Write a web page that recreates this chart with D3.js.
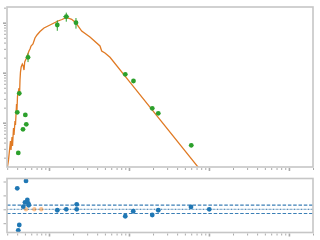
<!DOCTYPE html>
<html>
<head>
<meta charset="utf-8">
<script src="https://cdn.jsdelivr.net/npm/d3@7"></script>
<style>
  body { margin: 0; background: #fff; }
  svg { display: block; }
</style>
</head>
<body>
<svg id="chart" width="320" height="240"></svg>
<script>
// model spectrum: wavelength (um) and flux
const modelWave = [0.0301, 0.0312, 0.0321, 0.0330, 0.0335, 0.0345, 0.0350, 0.0360, 0.0365, 0.0376,
  0.0381, 0.0393, 0.0398, 0.0404, 0.0413, 0.0422, 0.0428, 0.0434, 0.0440, 0.0449,
  0.0464, 0.0477, 0.0487, 0.0497, 0.0516, 0.0539, 0.0562, 0.0579, 0.0596, 0.0631,
  0.0668, 0.0708, 0.0772, 0.0866, 0.0972, 0.1122, 0.1296, 0.1454, 0.1655, 0.1922,
  0.2175, 0.2563, 0.3252, 0.4340, 0.4560, 0.5012, 0.5790, 0.980, 7.72];
const modelFlux = [0.124, 0.180, 0.284, 0.431, 0.284, 0.518, 0.342, 0.783, 0.568, 1.08,
  0.90, 2.37, 1.79, 3.42, 4.11, 4.94, 3.42, 7.14, 10.3, 13.0,
  14.9, 13.6, 11.3, 16.4, 18.8, 22.6, 27.2, 29.8, 34.2, 37.5,
  49.4, 56.8, 66.7, 78.3, 85.9, 96.4, 108.1, 115.9, 127.1, 116.9,
  98.6, 68.2, 51.8, 34.2, 27.2, 24.8, 20.3, 7.08, 0.116];

// photometry
const photWave = [0.0401, 0.0413, 0.0425, 0.0473, 0.0506, 0.0520, 0.0547, 0.1270, 0.1645, 0.2175,
  0.899, 1.138, 1.955, 2.325, 6.01];
const photFlux = [1.61, 0.248, 3.87, 0.738, 1.43, 0.929, 20.3, 89.9, 131.8, 100,
  9.29, 6.82, 1.94, 1.54, 0.353];
const photErr = [0.1, 0.02, 0.3, 0.05, 0.1, 0.06, 4, 21, 27, 24,
  0.4, 0.3, 0.1, 0.08, 0.03];
const photWaveErr = [0.0005, 0.0005, 0.0005, 0.0005, 0.0005, 0.0005, 0.0015, 0.004, 0.014, 0.006,
  0.01, 0.01, 0.02, 0.02, 0.05];

// residuals
const residWave = [0.0401, 0.0516, 0.0425, 0.0413, 0.0477, 0.0501, 0.0536, 0.0551, 0.0557, 0.127,
  0.1645, 0.222, 0.222, 0.899, 1.130, 1.955, 2.325, 5.96, 10.09];
const residVal = [1.51, 2.04, -1.13, -1.51, 0.19, 0.50, 0.67, 0.43, 0.29, -0.07,
  0.0, 0.36, 0.0, -0.50, -0.14, -0.41, -0.07, 0.17, 0.0];
const skipWave = [0.0516, 0.0655, 0.0801];
const skipVal = [0, 0, 0];
const residBand = 0.3;
const residTicks = [-1, 0, 1, 2];

const svg = d3.select('#chart');
const L = 7, R = 313;
const main = { top: 7, bottom: 167 };
const res = { top: 178.5, bottom: 232.5 };
const spine = '#c6c6c6', tickCol = '#aaaaaa';

const x = d3.scaleLog().domain([0.02985, 200]).range([L, R]);
const y = d3.scaleLog().domain([0.13, 206]).range([main.bottom, main.top]);
const yr = d3.scaleLinear().domain([-1.669, 2.216]).range([res.bottom, res.top]);

const isMajor = d => Math.abs(Math.log10(d) - Math.round(Math.log10(d))) < 1e-6;

// clip paths
const defs = svg.append('defs');
defs.append('clipPath').attr('id', 'clipMain').append('rect')
  .attr('x', L).attr('y', main.top).attr('width', R - L).attr('height', main.bottom - main.top);
defs.append('clipPath').attr('id', 'clipRes').append('rect')
  .attr('x', L).attr('y', res.top).attr('width', R - L).attr('height', res.bottom - res.top);

function drawTicks(axis, ticks, size, tx, ty) {
  const g = svg.append('g').attr('transform', `translate(${tx},${ty})`)
    .call(axis.tickValues(ticks).tickSize(size).tickFormat(''));
  g.select('.domain').remove();
  g.selectAll('line').attr('stroke', tickCol).attr('stroke-width', 1);
  return g;
}

// main panel ticks
const xt = x.ticks();
drawTicks(d3.axisBottom(x), xt.filter(d => !isMajor(d)), 2, 0, main.bottom + 1);
drawTicks(d3.axisBottom(x), xt.filter(isMajor), 3, 0, main.bottom + 1).selectAll('line').attr('stroke-width', 1.6);
const yt = y.ticks();
drawTicks(d3.axisLeft(y), yt.filter(d => !isMajor(d)), 2, L - 1, 0);
drawTicks(d3.axisLeft(y), yt.filter(isMajor), 3, L - 1, 0).selectAll('line').attr('stroke-width', 1.6);

// residual panel ticks
drawTicks(d3.axisBottom(x), xt.filter(d => !isMajor(d)), 2, 0, res.bottom + 1);
drawTicks(d3.axisBottom(x), xt.filter(isMajor), 3, 0, res.bottom + 1).selectAll('line').attr('stroke-width', 1.6);
drawTicks(d3.axisLeft(yr), residTicks, 2.5, L - 1, 0);

// model line
const line = d3.line().x((d, i) => x(modelWave[i])).y(d => y(d));
svg.append('path').datum(modelFlux)
  .attr('clip-path', 'url(#clipMain)')
  .attr('d', line)
  .attr('fill', 'none')
  .attr('stroke', '#e07a24')
  .attr('stroke-width', 1.3);

// photometry with error bars
const gP = svg.append('g').attr('clip-path', 'url(#clipMain)');
photWave.forEach((w, i) => {
  const f = photFlux[i];
  gP.append('line')
    .attr('x1', x(w)).attr('x2', x(w))
    .attr('y1', y(f - photErr[i])).attr('y2', y(f + photErr[i]))
    .attr('stroke', '#2ca02c').attr('stroke-width', 1);
  gP.append('line')
    .attr('x1', x(w - photWaveErr[i])).attr('x2', x(w + photWaveErr[i]))
    .attr('y1', y(f)).attr('y2', y(f))
    .attr('stroke', '#2ca02c').attr('stroke-width', 1);
});
gP.selectAll('circle').data(photFlux).join('circle')
  .attr('cx', (d, i) => x(photWave[i]))
  .attr('cy', d => y(d))
  .attr('r', 2.4)
  .attr('fill', '#2ca02c');

// residual reference lines
const gR = svg.append('g').attr('clip-path', 'url(#clipRes)');
gR.append('line').attr('x1', L).attr('x2', R).attr('y1', yr(0)).attr('y2', yr(0))
  .attr('stroke', '#aecbe3').attr('stroke-width', 1);
gR.append('line').attr('x1', L).attr('x2', R).attr('y1', yr(0)).attr('y2', yr(0))
  .attr('stroke', '#4a7fa8').attr('stroke-width', 1).attr('stroke-dasharray', '1,2.5');
[residBand, -residBand].forEach(v => {
  gR.append('line').attr('x1', L).attr('x2', R).attr('y1', yr(v)).attr('y2', yr(v))
    .attr('stroke', '#3b7fb6').attr('stroke-width', 1.1).attr('stroke-dasharray', '3.5,1.8');
});

gR.selectAll('circle.skip').data(skipVal).join('circle').attr('class', 'skip')
  .attr('cx', (d, i) => x(skipWave[i]))
  .attr('cy', d => yr(d))
  .attr('r', 2.2)
  .attr('fill', '#ff7f0e').attr('opacity', 0.45);
gR.selectAll('circle.res').data(residVal).join('circle').attr('class', 'res')
  .attr('cx', (d, i) => x(residWave[i]))
  .attr('cy', d => yr(d))
  .attr('r', 2.4)
  .attr('fill', '#1f77b4');

// spines
[main, res].forEach(p => {
  svg.append('rect')
    .attr('x', L).attr('y', p.top)
    .attr('width', R - L).attr('height', p.bottom - p.top)
    .attr('fill', 'none')
    .attr('stroke', spine)
    .attr('stroke-width', 1.6);
});
</script>
</body>
</html>
